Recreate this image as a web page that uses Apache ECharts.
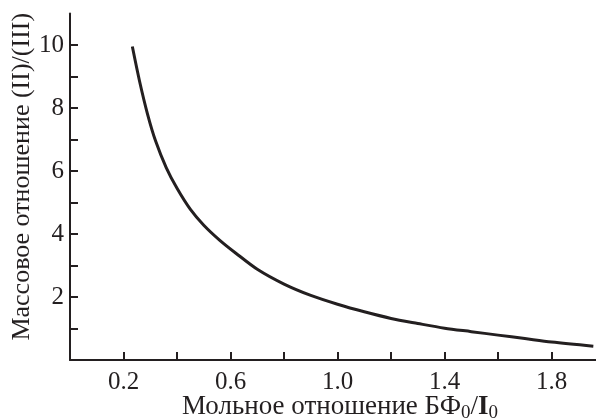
<!DOCTYPE html>
<html>
<head>
    <meta charset="UTF-8">
    <title>Массовое отношение</title>
    <script src="https://cdn.jsdelivr.net/npm/echarts@6/dist/echarts.min.js"></script>
    <style>
        html, body { margin: 0; padding: 0; background: #fff; }
        #main { width: 596px; height: 419px; }
    </style>
</head>
<body>
<div id="main"></div>
<script type="text/javascript">
    // мольное отношение БФ0/I0 (ось X)
    var molarRatio = [0.233, 0.26, 0.29, 0.32, 0.36, 0.40, 0.45, 0.50, 0.56, 0.62, 0.70, 0.80, 0.90,
        1.0, 1.1, 1.2, 1.3, 1.4, 1.5, 1.6, 1.7, 1.8, 1.956];
    // массовое отношение (II)/(III) (ось Y)
    var massRatio = [9.95, 8.85, 7.8, 6.95, 6.1, 5.45, 4.78, 4.28, 3.8, 3.39, 2.88, 2.41, 2.05,
        1.77, 1.53, 1.32, 1.16, 1.01, 0.9, 0.79, 0.68, 0.57, 0.44];

    // деления и подписи осей
    var xTicks = [0.2, 0.4, 0.6, 0.8, 1.0, 1.2, 1.4, 1.6, 1.8];
    var xLabels = [0.2, 0.6, 1.0, 1.4, 1.8];
    var yTicks = [1, 2, 3, 4, 5, 6, 7, 8, 9, 10];
    var yLabels = [2, 4, 6, 8, 10];

    var ink = '#231f20';
    var serif = '"Times New Roman", "Liberation Serif", Times, serif';
    var tickText = { t: { fontFamily: serif, fontSize: 25, color: ink } };

    var points = molarRatio.map(function (x, i) {
        return [x, massRatio[i]];
    });

    var myChart = echarts.init(document.getElementById('main'));

    var option = {
        animation: false,
        grid: { left: 70, right: 0, top: 13.5, bottom: 59, containLabel: false, outerBoundsMode: 'none' },
        xAxis: {
            type: 'value',
            min: 0,
            max: 1.966,
            name: '{n|Мольное отношение БФ}{s|0}{n|/}{b|I}{s|0}',
            nameLocation: 'middle',
            nameGap: 31,
            nameMoveOverlap: false,
            nameTextStyle: {
                padding: [0, 0, 0, 14],
                rich: {
                    n: { fontFamily: serif, fontSize: 27, color: ink },
                    b: { fontFamily: serif, fontSize: 27, color: ink, fontWeight: 'bold' },
                    s: { fontFamily: serif, fontSize: 19, color: ink, verticalAlign: 'bottom', padding: [13, 0, 0, 0] }
                }
            },
            splitLine: { show: false },
            axisLine: { lineStyle: { color: ink, width: 2 } },
            axisTick: { inside: true, length: 8, lineStyle: { color: ink, width: 2 }, customValues: xTicks },
            axisLabel: {
                customValues: xLabels,
                margin: 10,
                rich: tickText,
                formatter: function (v) { return '{t|' + v.toFixed(1) + '}'; }
            }
        },
        yAxis: {
            type: 'value',
            min: 0,
            max: 11,
            name: 'Массовое отношение (II)/(III)',
            nameLocation: 'middle',
            nameGap: 35,
            nameMoveOverlap: false,
            nameTextStyle: { fontFamily: serif, fontSize: 26, color: ink, padding: [0, 0, 0, 20] },
            splitLine: { show: false },
            axisLine: { lineStyle: { color: ink, width: 2 } },
            axisTick: { inside: true, length: 8, lineStyle: { color: ink, width: 2 }, customValues: yTicks },
            axisLabel: {
                customValues: yLabels,
                margin: 6,
                rich: tickText,
                formatter: function (v) { return '{t|' + v + '}'; }
            }
        },
        series: [{
            type: 'line',
            data: points,
            smooth: 0.3,
            showSymbol: false,
            lineStyle: { color: ink, width: 3 }
        }]
    };

    myChart.setOption(option);
</script>
</body>
</html>
